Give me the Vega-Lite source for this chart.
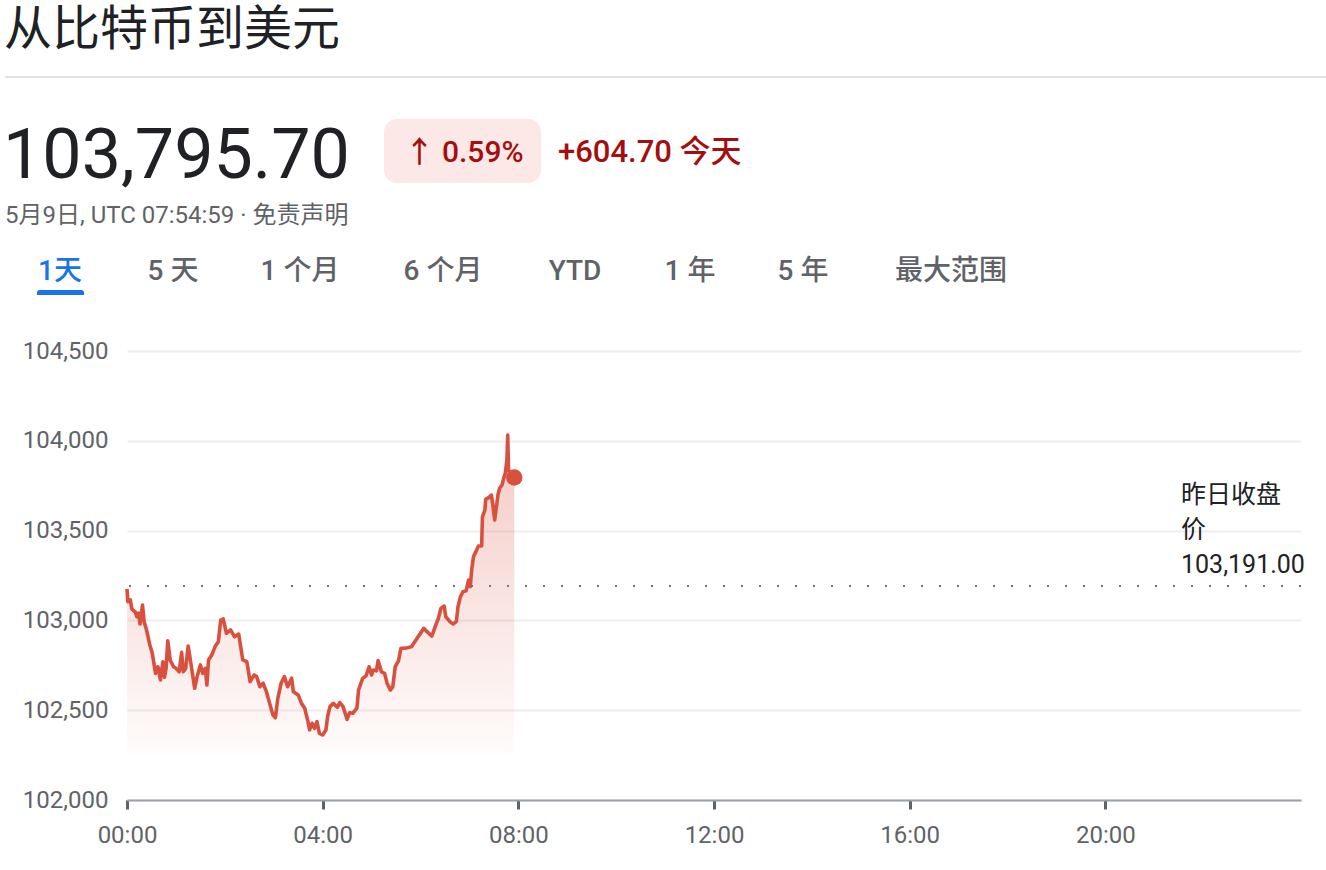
{
  "$schema": "https://vega.github.io/schema/vega-lite/v6.json",
  "width": 1174,
  "height": 449,
  "autosize": {"type": "none"},
  "padding": {"left": 127, "top": 351, "right": 25, "bottom": 70},
  "background": "#ffffff",
  "config": {"view": {"stroke": null}, "font": "Roboto, Noto Sans CJK SC"},
  "data": {
    "values": [
      {"t":"00:00","v":103175},{"t":"00:01","v":103104},{"t":"00:04","v":103114},{"t":"00:06","v":103063},
      {"t":"00:10","v":103048},{"t":"00:12","v":103021},{"t":"00:14","v":103040},{"t":"00:16","v":102980},
      {"t":"00:19","v":103086},{"t":"00:21","v":102993},{"t":"00:24","v":102947},{"t":"00:28","v":102863},
      {"t":"00:31","v":102817},{"t":"00:35","v":102705},{"t":"00:38","v":102742},{"t":"00:41","v":102668},
      {"t":"00:44","v":102770},{"t":"00:46","v":102683},{"t":"00:48","v":102735},{"t":"00:50","v":102887},
      {"t":"00:53","v":102780},{"t":"00:57","v":102742},{"t":"01:00","v":102733},{"t":"01:04","v":102714},
      {"t":"01:07","v":102822},{"t":"01:09","v":102714},{"t":"01:12","v":102733},{"t":"01:15","v":102857},
      {"t":"01:19","v":102742},{"t":"01:23","v":102622},{"t":"01:26","v":102687},{"t":"01:30","v":102752},
      {"t":"01:33","v":102705},{"t":"01:36","v":102733},{"t":"01:38","v":102640},{"t":"01:40","v":102780},
      {"t":"01:44","v":102807},{"t":"01:48","v":102854},{"t":"01:52","v":102881},{"t":"01:55","v":103002},
      {"t":"01:58","v":103008},{"t":"02:02","v":102928},{"t":"02:07","v":102947},{"t":"02:12","v":102909},
      {"t":"02:17","v":102924},{"t":"02:22","v":102780},{"t":"02:27","v":102770},{"t":"02:31","v":102659},
      {"t":"02:36","v":102696},{"t":"02:39","v":102687},{"t":"02:43","v":102631},{"t":"02:47","v":102650},
      {"t":"02:51","v":102603},{"t":"02:55","v":102538},{"t":"02:59","v":102473},{"t":"03:02","v":102458},
      {"t":"03:05","v":102566},{"t":"03:09","v":102650},{"t":"03:13","v":102687},{"t":"03:17","v":102631},
      {"t":"03:22","v":102678},{"t":"03:24","v":102603},{"t":"03:30","v":102585},{"t":"03:34","v":102538},
      {"t":"03:38","v":102511},{"t":"03:42","v":102436},{"t":"03:44","v":102390},{"t":"03:47","v":102427},
      {"t":"03:50","v":102399},{"t":"03:53","v":102436},{"t":"03:56","v":102371},{"t":"04:00","v":102362},
      {"t":"04:04","v":102390},{"t":"04:06","v":102464},{"t":"04:09","v":102520},{"t":"04:13","v":102538},
      {"t":"04:18","v":102516},{"t":"04:21","v":102542},{"t":"04:25","v":102520},{"t":"04:30","v":102449},
      {"t":"04:33","v":102486},{"t":"04:37","v":102483},{"t":"04:42","v":102511},{"t":"04:44","v":102612},
      {"t":"04:49","v":102677},{"t":"04:53","v":102690},{"t":"04:57","v":102742},{"t":"05:00","v":102696},
      {"t":"05:02","v":102724},{"t":"05:06","v":102719},{"t":"05:08","v":102776},{"t":"05:12","v":102714},
      {"t":"05:16","v":102705},{"t":"05:19","v":102650},{"t":"05:23","v":102612},{"t":"05:26","v":102631},
      {"t":"05:29","v":102742},{"t":"05:33","v":102775},{"t":"05:36","v":102845},{"t":"05:40","v":102845},
      {"t":"05:44","v":102848},{"t":"05:49","v":102854},{"t":"05:53","v":102881},{"t":"05:57","v":102909},
      {"t":"06:00","v":102928},{"t":"06:04","v":102956},{"t":"06:08","v":102937},{"t":"06:14","v":102913},
      {"t":"06:18","v":102965},{"t":"06:22","v":103012},{"t":"06:25","v":103067},{"t":"06:29","v":103080},
      {"t":"06:31","v":103021},{"t":"06:36","v":102993},{"t":"06:40","v":102980},{"t":"06:44","v":102993},
      {"t":"06:46","v":103076},{"t":"06:49","v":103132},{"t":"06:52","v":103160},{"t":"06:56","v":103165},
      {"t":"06:59","v":103225},{"t":"07:01","v":103188},{"t":"07:03","v":103290},{"t":"07:05","v":103355},
      {"t":"07:08","v":103383},{"t":"07:11","v":103414},{"t":"07:15","v":103414},{"t":"07:16","v":103577},
      {"t":"07:19","v":103615},{"t":"07:20","v":103674},{"t":"07:24","v":103685},{"t":"07:27","v":103698},
      {"t":"07:29","v":103633},{"t":"07:31","v":103559},{"t":"07:35","v":103698},{"t":"07:37","v":103736},
      {"t":"07:40","v":103754},{"t":"07:42","v":103791},{"t":"07:44","v":103819},{"t":"07:46","v":103893},
      {"t":"07:47","v":104032},{"t":"07:48","v":103837},{"t":"07:51","v":103810},{"t":"07:55","v":103795.7}
    ],
    "format": {"parse": {"t": "date:'%H:%M'"}}
  },
  "layer": [
    {
      "mark": {
        "type": "area",
        "interpolate": "linear",
        "color": {
          "gradient": "linear", "x1": 0, "y1": 0, "x2": 0, "y2": 1,
          "stops": [
            {"offset": 0, "color": "rgba(217,80,63,0.30)"},
            {"offset": 1, "color": "rgba(217,80,63,0.02)"}
          ]
        }
      },
      "encoding": {
        "x": {
          "field": "t", "type": "temporal",
          "scale": {"domain": [{"year": 1900, "month": 1, "date": 1, "hours": 0}, {"year": 1900, "month": 1, "date": 2, "hours": 0}]},
          "axis": {
            "values": [
              {"year": 1900, "month": 1, "date": 1, "hours": 0},
              {"year": 1900, "month": 1, "date": 1, "hours": 4},
              {"year": 1900, "month": 1, "date": 1, "hours": 8},
              {"year": 1900, "month": 1, "date": 1, "hours": 12},
              {"year": 1900, "month": 1, "date": 1, "hours": 16},
              {"year": 1900, "month": 1, "date": 1, "hours": 20}
            ],
            "format": "%H:%M", "title": null, "grid": false, "labelFlush": false,
            "domainColor": "#9aa0a6", "domainWidth": 2,
            "tickColor": "#5f6368", "tickWidth": 3, "tickSize": 9,
            "labelPadding": 14, "labelFont": "Roboto", "labelFontSize": 24, "labelColor": "#5f6368"
          }
        },
        "y": {
          "field": "v", "type": "quantitative",
          "scale": {"domain": [102000, 104500], "nice": false, "zero": false},
          "axis": {
            "values": [102000, 102500, 103000, 103500, 104000, 104500],
            "format": ",.0f", "title": null, "grid": true, "gridColor": "#eeeeee", "gridWidth": 2,
            "domain": false, "ticks": false, "labelPadding": 19,
            "labelFont": "Roboto", "labelFontSize": 24, "labelColor": "#5f6368"
          }
        },
        "y2": {"datum": 102260}
      }
    },
    {
      "mark": {"type": "line", "color": "#d9503f", "strokeWidth": 3.6, "interpolate": "linear", "strokeJoin": "round"},
      "encoding": {
        "x": {"field": "t", "type": "temporal"},
        "y": {"field": "v", "type": "quantitative"}
      }
    },
    {
      "transform": [{"filter": "datum.v == 103795.7"}],
      "mark": {"type": "point", "filled": true, "color": "#d9503f", "size": 270, "opacity": 1},
      "encoding": {
        "x": {"field": "t", "type": "temporal"},
        "y": {"field": "v", "type": "quantitative"}
      }
    },
    {
      "data": {"values": [{"prev": 103191}]},
      "mark": {"type": "rule", "color": "#70757a", "strokeWidth": 2, "strokeDash": [2, 16]},
      "encoding": {"y": {"field": "prev", "type": "quantitative"}}
    },
    {
      "data": {"values": [{"prev": 103191}]},
      "mark": {"type": "text", "text": ["昨日收盘", "价", "103,191.00"], "align": "left", "baseline": "bottom", "fontSize": 25, "lineHeight": 35, "color": "#202124", "dy": -78},
      "encoding": {"y": {"field": "prev", "type": "quantitative"}, "x": {"value": 1054}}
    },
    {
      "data": {"values": [{}]},
      "mark": {"type": "text", "text": "从比特币到美元", "align": "left", "baseline": "middle", "fontSize": 48, "font": "Noto Sans CJK SC", "color": "#202124"},
      "encoding": {"x": {"value": -123}, "y": {"value": -320}}
    },
    {
      "data": {"values": [{}]},
      "mark": {"type": "rule", "color": "#e3e3e3", "strokeWidth": 2},
      "encoding": {"x": {"value": -122}, "x2": {"value": 1199}, "y": {"value": -274}}
    },
    {
      "data": {"values": [{}]},
      "mark": {"type": "text", "text": "103,795.70", "align": "left", "baseline": "middle", "fontSize": 70, "font": "Roboto", "color": "#202124"},
      "encoding": {"x": {"value": -124}, "y": {"value": -194}}
    },
    {
      "data": {"values": [{}]},
      "mark": {"type": "rect", "color": "#fce8e6", "cornerRadius": 13},
      "encoding": {"x": {"value": 257}, "x2": {"value": 414}, "y": {"value": -232}, "y2": {"value": -168}}
    },
    {
      "data": {"values": [{}]},
      "mark": {"type": "text", "text": "↑ 0.59%", "align": "center", "baseline": "middle", "fontSize": 30, "fontWeight": 500, "color": "#a50e0e"},
      "encoding": {"x": {"value": 337}, "y": {"value": -198}}
    },
    {
      "data": {"values": [{}]},
      "mark": {"type": "text", "text": "+604.70 今天", "align": "left", "baseline": "middle", "fontSize": 31, "fontWeight": 500, "color": "#a50e0e"},
      "encoding": {"x": {"value": 431}, "y": {"value": -198}}
    },
    {
      "data": {"values": [{}]},
      "mark": {"type": "text", "text": "5月9日, UTC 07:54:59 · 免责声明", "align": "left", "baseline": "middle", "fontSize": 24, "color": "#5f6368"},
      "encoding": {"x": {"value": -122}, "y": {"value": -135}}
    },
    {
      "data": {"values": [{}]},
      "mark": {"type": "text", "text": "1天", "align": "center", "baseline": "middle", "fontSize": 28, "fontWeight": 500, "color": "#1a73e8"},
      "encoding": {"x": {"value": -67}, "y": {"value": -79}}
    },
    {
      "data": {"values": [{}]},
      "mark": {"type": "rect", "color": "#1a73e8", "cornerRadiusTopLeft": 4, "cornerRadiusTopRight": 4},
      "encoding": {"x": {"value": -90}, "x2": {"value": -43}, "y": {"value": -61}, "y2": {"value": -56}}
    },
    {
      "data": {"values": [{}]},
      "mark": {"type": "text", "text": "5 天", "align": "center", "baseline": "middle", "fontSize": 28, "fontWeight": 500, "color": "#5f6368"},
      "encoding": {"x": {"value": 46}, "y": {"value": -79}}
    },
    {
      "data": {"values": [{}]},
      "mark": {"type": "text", "text": "1 个月", "align": "center", "baseline": "middle", "fontSize": 28, "fontWeight": 500, "color": "#5f6368"},
      "encoding": {"x": {"value": 173}, "y": {"value": -79}}
    },
    {
      "data": {"values": [{}]},
      "mark": {"type": "text", "text": "6 个月", "align": "center", "baseline": "middle", "fontSize": 28, "fontWeight": 500, "color": "#5f6368"},
      "encoding": {"x": {"value": 316}, "y": {"value": -79}}
    },
    {
      "data": {"values": [{}]},
      "mark": {"type": "text", "text": "YTD", "align": "center", "baseline": "middle", "fontSize": 28, "fontWeight": 500, "color": "#5f6368"},
      "encoding": {"x": {"value": 448}, "y": {"value": -79}}
    },
    {
      "data": {"values": [{}]},
      "mark": {"type": "text", "text": "1 年", "align": "center", "baseline": "middle", "fontSize": 28, "fontWeight": 500, "color": "#5f6368"},
      "encoding": {"x": {"value": 563}, "y": {"value": -79}}
    },
    {
      "data": {"values": [{}]},
      "mark": {"type": "text", "text": "5 年", "align": "center", "baseline": "middle", "fontSize": 28, "fontWeight": 500, "color": "#5f6368"},
      "encoding": {"x": {"value": 676}, "y": {"value": -79}}
    },
    {
      "data": {"values": [{}]},
      "mark": {"type": "text", "text": "最大范围", "align": "center", "baseline": "middle", "fontSize": 28, "fontWeight": 500, "color": "#5f6368"},
      "encoding": {"x": {"value": 824}, "y": {"value": -79}}
    }
  ]
}
